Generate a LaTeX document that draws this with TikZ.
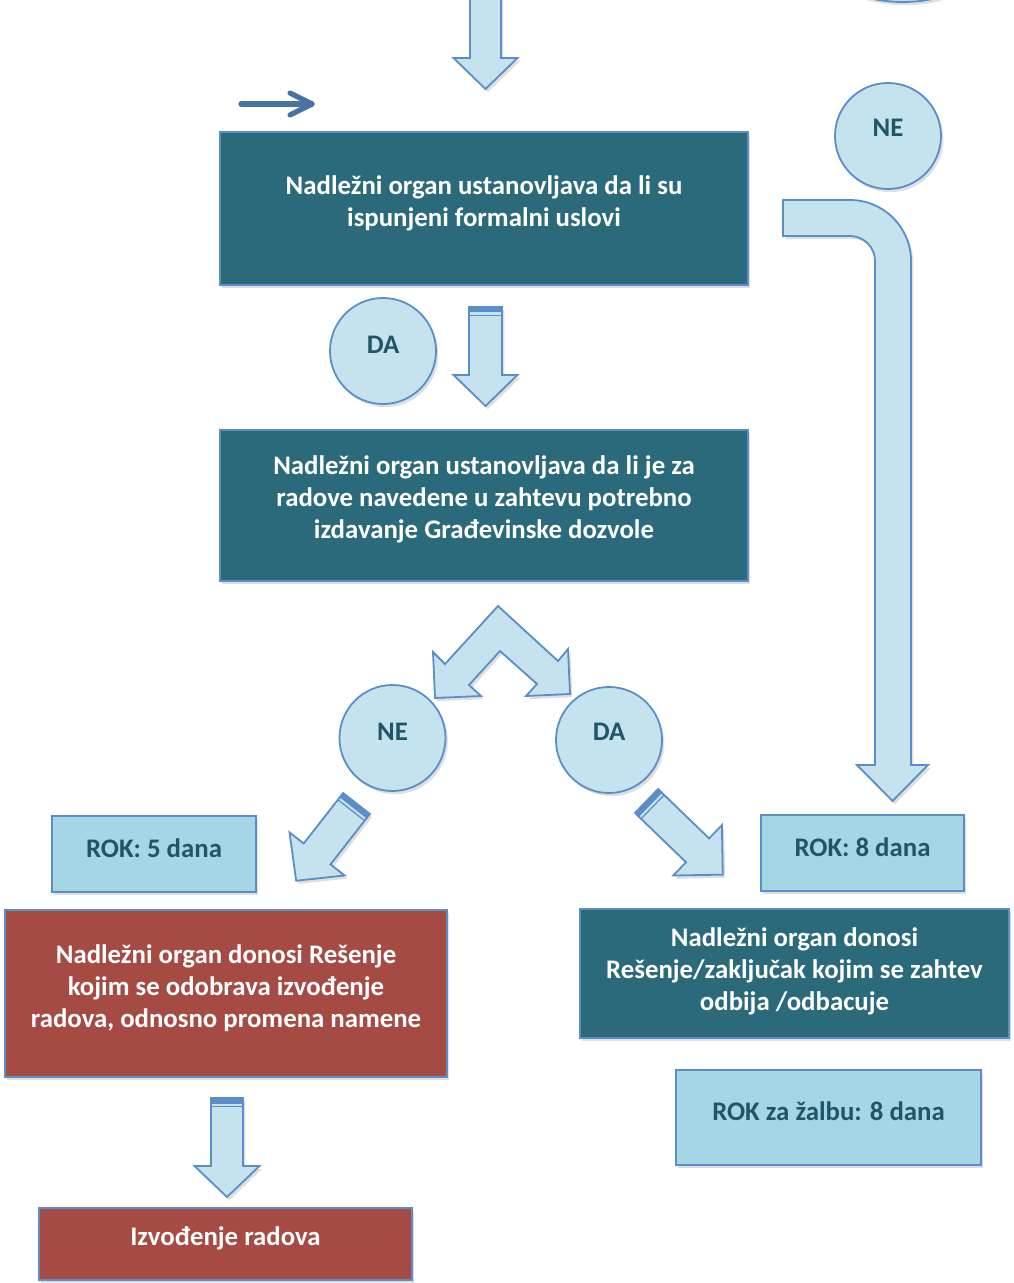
\documentclass[tikz,border=0pt]{standalone}
\usepackage{fontspec}
\setmainfont{Carlito}
\usetikzlibrary{shadows}

\definecolor{tealfill}{HTML}{2A6A7A}
\definecolor{redfill}{HTML}{A54B43}
\definecolor{lightfill}{HTML}{A5D6E6}
\definecolor{palefill}{HTML}{C4E3EE}
\definecolor{edge}{HTML}{5B8DC8}
\definecolor{darktext}{HTML}{1F5565}
\definecolor{pointer}{HTML}{4673A4}

\tikzset{
  softshadow/.style={drop shadow={shadow xshift=1.2pt,shadow yshift=-1.6pt,opacity=0.25}},
  box/.style={rectangle, draw=edge, line width=0.8pt, inner sep=0pt, outer sep=0pt, softshadow},
  tealbox/.style={box, fill=tealfill},
  redbox/.style={box, fill=redfill},
  lightbox/.style={box, fill=lightfill},
  bubble/.style={circle, draw=edge, line width=0.9pt, fill=palefill, minimum size=53pt, inner sep=0pt, softshadow},
  wtext/.style={align=center, text=white, inner sep=0pt, font=\fontsize{13.4}{16}\selectfont\bfseries},
  dtext/.style={align=center, text=darktext, inner sep=0pt, font=\fontsize{13.4}{16}\selectfont\bfseries},
  blockarrow/.style={draw=edge, line width=0.9pt, fill=palefill, line join=miter, softshadow},
}

% block arrow pointing down in local coordinates, tail centre at origin
% #1,#2 tail position, #3 rotation, #4 half shaft, #5 half head, #6 shaft length, #7 head length
\newcommand\blockarrowshape[7]{%
  \begin{scope}[shift={(#1,#2)}, rotate=#3]
    \path[blockarrow] (-#4,0) -- (#4,0) -- (#4,#6) -- (#5,#6) -- (0,#6+#7)
      -- (-#5,#6) -- (-#4,#6) -- cycle;
  \end{scope}}
% double band across the tail of a block arrow
\newcommand\tailband[4]{%
  \begin{scope}[shift={(#1,#2)}, rotate=#3]
    \fill[edge] (-#4,0) rectangle (#4,5.5);
    \draw[edge, line width=0.6pt] (-#4,8.5) -- (#4,8.5);
  \end{scope}}

\begin{document}
\begin{tikzpicture}[x=0.5pt, y=-0.5pt]
\useasboundingbox (0,0) rectangle (1013,1283);

% partly visible ellipse at the upper edge
\path[blockarrow] (903,-50) ellipse [x radius=44pt, y radius=26pt];

% incoming arrow at the top
\blockarrowshape{485.5}{-3}{0}{15.5}{32}{61}{31}

% small pointer arrow
\coordinate (pa) at (241,104);
\coordinate (pb) at (312,104);
\coordinate (pc) at (290,93);
\coordinate (pd) at (290,115);
\draw[pointer, line width=2.6pt, line cap=round, line join=round, softshadow] (pa) -- (pb);
\draw[pointer, line width=2.6pt, line cap=round, line join=round] (pc) -- (pb) -- (pd);

% first check
\node[tealbox, minimum width=264pt, minimum height=76.5pt] (b1) at (484,208.5) {};
\node[wtext] (t1) at (484,203) {Nadležni organ ustanovljava da li su\\ispunjeni formalni uslovi};

% NE branch on the right
\node[bubble] (ne1) at (888,136) {};
\node[dtext] (ne1t) at (888,128) {NE};
\path[blockarrow] (783,200) -- (850,200) .. controls (883.7,200) and (911,227.3) .. (911,261)
  -- (911,765) -- (928,765) -- (892.5,801) -- (857,765) -- (875,765) -- (875,261)
  .. controls (875,247.2) and (863.8,236) .. (850,236) -- (783,236) -- cycle;

% DA branch
\node[bubble] (da1) at (383,351) {};
\node[dtext] (da1t) at (383,345) {DA};
\blockarrowshape{485.5}{307}{0}{16.5}{32}{68}{31}
\tailband{485.5}{307}{0}{16.5}

% second check
\node[tealbox, minimum width=264pt, minimum height=75.5pt] (b2) at (484,505.5) {};
\node[wtext] (t2) at (484,499) {Nadležni organ ustanovljava da li je za\\radove navedene u zahtevu potrebno\\izdavanje Građevinske dozvole};

% split arrow
\path[blockarrow] (498,606) -- (558,661) -- (568,649) -- (570,694) -- (526,696) -- (537,684)
  -- (500,651) -- (469,685) -- (481,696) -- (435,698) -- (433,652) -- (445,664) -- cycle;

\node[bubble] (ne2) at (392.5,738) {};
\node[dtext] (ne2t) at (392.5,732) {NE};
\node[bubble] (da2) at (609,740) {};
\node[dtext] (da2t) at (609,732) {DA};

% diagonal arrows
\blockarrowshape{356.5}{803.5}{-38}{17}{35}{64}{34}
\tailband{356.5}{803.5}{-38}{17}
\blockarrowshape{646.5}{801}{46}{16.6}{35}{71}{35}
\tailband{646.5}{801}{46}{16.6}

% deadlines
\node[lightbox, minimum width=102pt, minimum height=38pt] (rok5) at (154,854) {};
\node[dtext] (rok5t) at (154,848) {ROK: 5 dana};
\node[lightbox, minimum width=101.5pt, minimum height=38pt] (rok8) at (862.5,853) {};
\node[dtext] (rok8t) at (862.5,847) {ROK: 8 dana};

% decisions
\node[redbox, minimum width=221pt, minimum height=83.5pt] (r1) at (226,993.5) {};
\node[wtext] (r1t) at (226,988.5) {Nadležni organ donosi Rešenje\\kojim se odobrava izvođenje\\radova, odnosno promena namene};
\node[tealbox, minimum width=214.5pt, minimum height=64.5pt] (b3) at (794.5,973.5) {};
\node[wtext] (b3t) at (794.5,971) {Nadležni organ donosi\\Rešenje/zaključak kojim se zahtev\\odbija /odbacuje};

\node[lightbox, minimum width=152.5pt, minimum height=47.5pt] (rokz) at (828.5,1117.5) {};
\node[dtext] (rokzt) at (828.5,1111) {ROK za žalbu: 8 dana};

% execution
\blockarrowshape{227}{1098}{0}{16}{32.5}{68}{31}
\tailband{227}{1098}{0}{16}
\node[redbox, minimum width=186.5pt, minimum height=36pt] (r2) at (225.5,1244) {};
\node[wtext] (r2t) at (225.5,1238) {Izvođenje radova};
\end{tikzpicture}
\end{document}
